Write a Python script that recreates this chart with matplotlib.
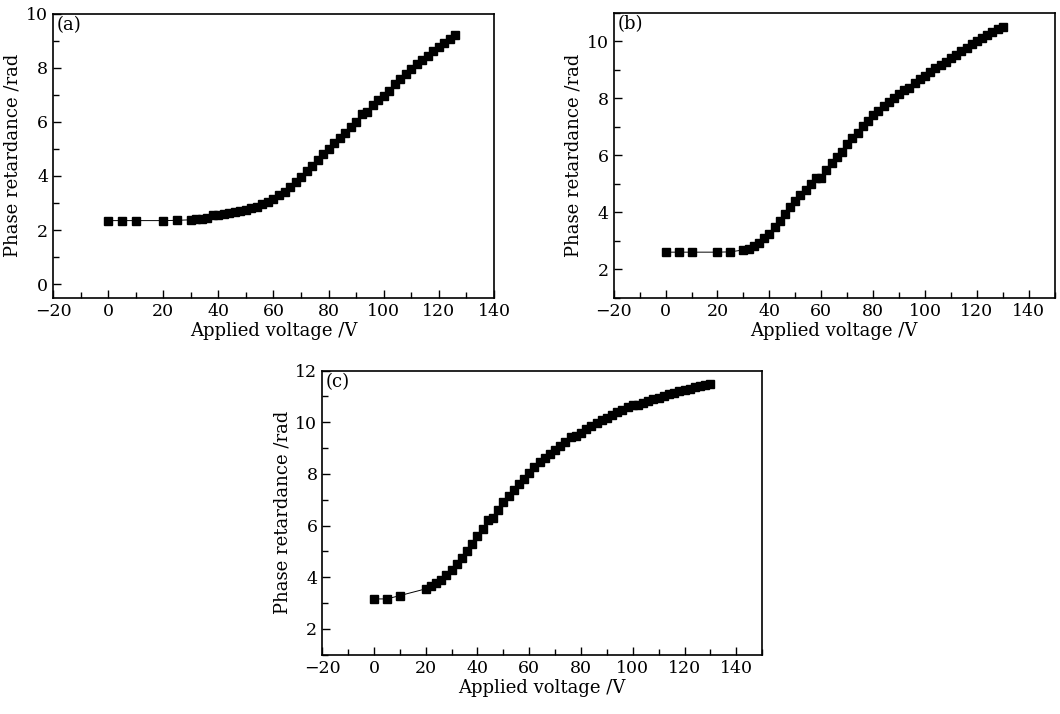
import numpy as np
import matplotlib
matplotlib.use("Agg")
import matplotlib.pyplot as plt
from matplotlib.ticker import MultipleLocator

plt.rcParams['font.family'] = ['DejaVu Serif']
plt.rcParams['mathtext.fontset'] = 'dejavuserif'

# panel (a)
volt_a = [0, 5, 10, 20, 25] + list(range(30, 127, 2))
phase_a = [2.35, 2.35, 2.35, 2.35, 2.36,
           2.38, 2.40, 2.42, 2.45, 2.55, 2.57, 2.59, 2.62, 2.65, 2.70,
           2.75, 2.80, 2.87, 2.95, 3.02, 3.15, 3.28, 3.42, 3.58, 3.78,
           3.97, 4.18, 4.38, 4.60, 4.80, 5.00, 5.20, 5.40, 5.60, 5.80,
           6.00, 6.30, 6.38, 6.62, 6.82, 6.95, 7.15, 7.40, 7.60, 7.78,
           7.95, 8.12, 8.28, 8.45, 8.60, 8.75, 8.90, 9.05, 9.20]

# panel (b)
volt_b = [0, 5, 10, 20, 25] + list(range(30, 131, 2))
phase_b = [2.60, 2.60, 2.60, 2.60, 2.61,
           2.68, 2.72, 2.82, 2.93, 3.08, 3.25, 3.48, 3.70, 3.95, 4.18,
           4.40, 4.60, 4.78, 4.98, 5.22, 5.22, 5.48, 5.72, 5.95, 6.12,
           6.38, 6.60, 6.80, 7.02, 7.20, 7.40, 7.55, 7.72, 7.88, 8.00,
           8.15, 8.28, 8.35, 8.55, 8.68, 8.80, 8.92, 9.05, 9.18, 9.28,
           9.40, 9.52, 9.65, 9.78, 9.90, 10.00, 10.12, 10.22, 10.32, 10.42,
           10.52]

# panel (c)
volt_c = [0, 5, 10] + list(range(20, 131, 2))
phase_c = [3.16, 3.16, 3.29,
           3.55, 3.65, 3.78, 3.90, 4.08, 4.28, 4.50, 4.75, 5.02, 5.30,
           5.58, 5.88, 6.22, 6.30, 6.62, 6.90, 7.15, 7.38, 7.60, 7.82,
           8.05, 8.25, 8.45, 8.62, 8.78, 8.92, 9.08, 9.25, 9.42, 9.45,
           9.60, 9.72, 9.85, 9.98, 10.08, 10.18, 10.28, 10.38, 10.48, 10.58,
           10.65, 10.68, 10.75, 10.82, 10.88, 10.95, 11.02, 11.08, 11.15, 11.20,
           11.25, 11.30, 11.35, 11.40, 11.43, 11.47]

fig = plt.figure(figsize=(10.6, 7.14), dpi=100)

panels = [
    ("(a)", volt_a, phase_a, [0.050, 0.583, 0.416, 0.398], (-20, 140), (-0.5, 10)),
    ("(b)", volt_b, phase_b, [0.579, 0.583, 0.416, 0.399], (-20, 150), (1, 11)),
    ("(c)", volt_c, phase_c, [0.304, 0.083, 0.415, 0.398], (-20, 150), (1, 12)),
]

for tag, x, y, pos, xl, yl in panels:
    ax = fig.add_axes(pos)
    ax.plot(x, y, color='black', lw=0.7, marker='s', markersize=5.5,
            markerfacecolor='black', markeredgecolor='black')
    ax.set_xlim(*xl)
    ax.set_ylim(*yl)
    ax.xaxis.set_major_locator(MultipleLocator(20))
    ax.xaxis.set_minor_locator(MultipleLocator(10))
    ax.yaxis.set_major_locator(MultipleLocator(2))
    ax.yaxis.set_minor_locator(MultipleLocator(1))
    ax.tick_params(which='both', direction='in', labelsize=12.5)
    ax.tick_params(which='major', length=6, width=1)
    ax.tick_params(which='minor', length=4, width=1)
    for s in ax.spines.values():
        s.set_linewidth(1.2)
    ax.set_xlabel("Applied voltage /V", fontsize=13, labelpad=2)
    ax.set_ylabel("Phase retardance /rad", fontsize=13, labelpad=3)
    ax.text(0.008, 0.992, tag, transform=ax.transAxes, ha='left', va='top', fontsize=13)

fig.savefig("out.png", dpi=100)
